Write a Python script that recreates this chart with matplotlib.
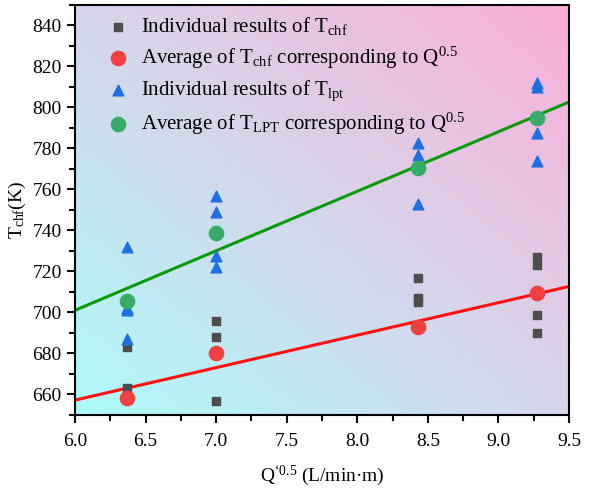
import numpy as np
import matplotlib
matplotlib.use("Agg")
import matplotlib.pyplot as plt
from matplotlib.ticker import MultipleLocator
from matplotlib.colors import LinearSegmentedColormap

plt.rcParams["font.family"] = ["Liberation Serif", "DejaVu Serif"]
plt.rcParams["mathtext.fontset"] = "custom"
plt.rcParams["mathtext.rm"] = "Liberation Serif"
plt.rcParams["mathtext.it"] = "Liberation Serif:italic"

# Flow-rate positions (Q^0.5)
q_levels = [6.37, 7.0, 8.43, 9.27]

# Individual T_chf results
chf_x = [6.37, 6.37, 7.0, 7.0, 7.0, 7.0, 8.43, 8.43, 8.43, 9.27, 9.27, 9.27, 9.27]
chf_y = [683, 663, 696, 688, 680, 657, 717, 707, 705, 727, 723, 699, 690]

# Average T_chf for each Q^0.5
chf_avg = [658.5, 680, 693, 709.5]

# Individual T_lpt results
lpt_x = [6.37, 6.37, 6.37, 6.37, 7.0, 7.0, 7.0, 7.0, 8.43, 8.43, 8.43, 9.27, 9.27, 9.27, 9.27]
lpt_y = [732, 702, 701, 687, 757, 749, 727.5, 722, 782.5, 777, 753, 812, 810, 787.5, 774]

# Average T_LPT for each Q^0.5
lpt_avg = [705.5, 738.6, 770.4, 795]

xlim = (6.0, 9.5)
ylim = (650, 850)

fig = plt.figure(figsize=(5.98, 4.90), dpi=100)
ax = fig.add_axes([0.1254, 0.1531, 0.8261, 0.8367])

# Diagonal background gradient: cyan (lower left) to pink (upper right)
cmap = LinearSegmentedColormap.from_list("bg", ["#aefafb", "#d6d6ea", "#fbaed9"])
u = np.linspace(0, 1, 300)
v = np.linspace(0, 1, 300)
U, V = np.meshgrid(u, v)
grad = (U + V) / 2
ax.imshow(grad, cmap=cmap, origin="lower", extent=[*xlim, *ylim],
          aspect="auto", zorder=0, interpolation="bilinear")

# Linear fits to the averages
xf = np.array(xlim)
pc = np.polyfit(q_levels, chf_avg, 1)
pl = np.polyfit(q_levels, lpt_avg, 1)
ax.plot(xf, np.polyval(pl, xf), color="#0a9a0a", lw=2.2, zorder=2)
ax.plot(xf, np.polyval(pc, xf), color="#ff1010", lw=2.2, zorder=2)

ax.scatter(chf_x, chf_y, marker="s", s=36, color="#4d4d4d", zorder=3,
           label=r"Individual results of $\mathregular{T_{chf}}$")
ax.scatter(q_levels, chf_avg, marker="o", s=105, color="#f04040", zorder=4,
           label=r"Average of $\mathregular{T_{chf}}$ corresponding to $\mathregular{Q^{0.5}}$")
ax.scatter(lpt_x, lpt_y, marker="^", s=60, color="#1f6fe0", zorder=3,
           label=r"Individual results of $\mathregular{T_{lpt}}$")
ax.scatter(q_levels, lpt_avg, marker="o", s=105, color="#38ab68", zorder=4,
           label=r"Average of $\mathregular{T_{LPT}}$ corresponding to $\mathregular{Q^{0.5}}$")

ax.set_xlim(*xlim)
ax.set_ylim(*ylim)
ax.xaxis.set_minor_locator(MultipleLocator(0.25))
ax.yaxis.set_minor_locator(MultipleLocator(10))
xt = np.arange(6.0, 9.51, 0.5)
ax.set_xticks(xt)
ax.set_xticklabels([f"{t:.1f}" for t in xt])
ax.set_yticks(np.arange(660, 841, 20))

ax.tick_params(which="both", direction="out", labelsize=14, width=1.5)
ax.tick_params(which="major", length=6)
ax.tick_params(which="minor", length=4)
ax.tick_params(axis="x", pad=7)
for s in ax.spines.values():
    s.set_linewidth(1.5)

ax.set_xlabel("$\\mathregular{Q^{\u20180.5}}$ (L/min·m)", fontsize=14, labelpad=10)
ax.set_ylabel(r"$\mathregular{T_{chf}}$(K)", fontsize=14, labelpad=3)

ax.legend(loc="upper left", frameon=False, fontsize=15, handletextpad=0.5,
          handlelength=1.2, labelspacing=0.36, borderaxespad=0.0,
          scatterpoints=1, bbox_to_anchor=(0.045, 0.995))

fig.savefig("out.png", dpi=100)
